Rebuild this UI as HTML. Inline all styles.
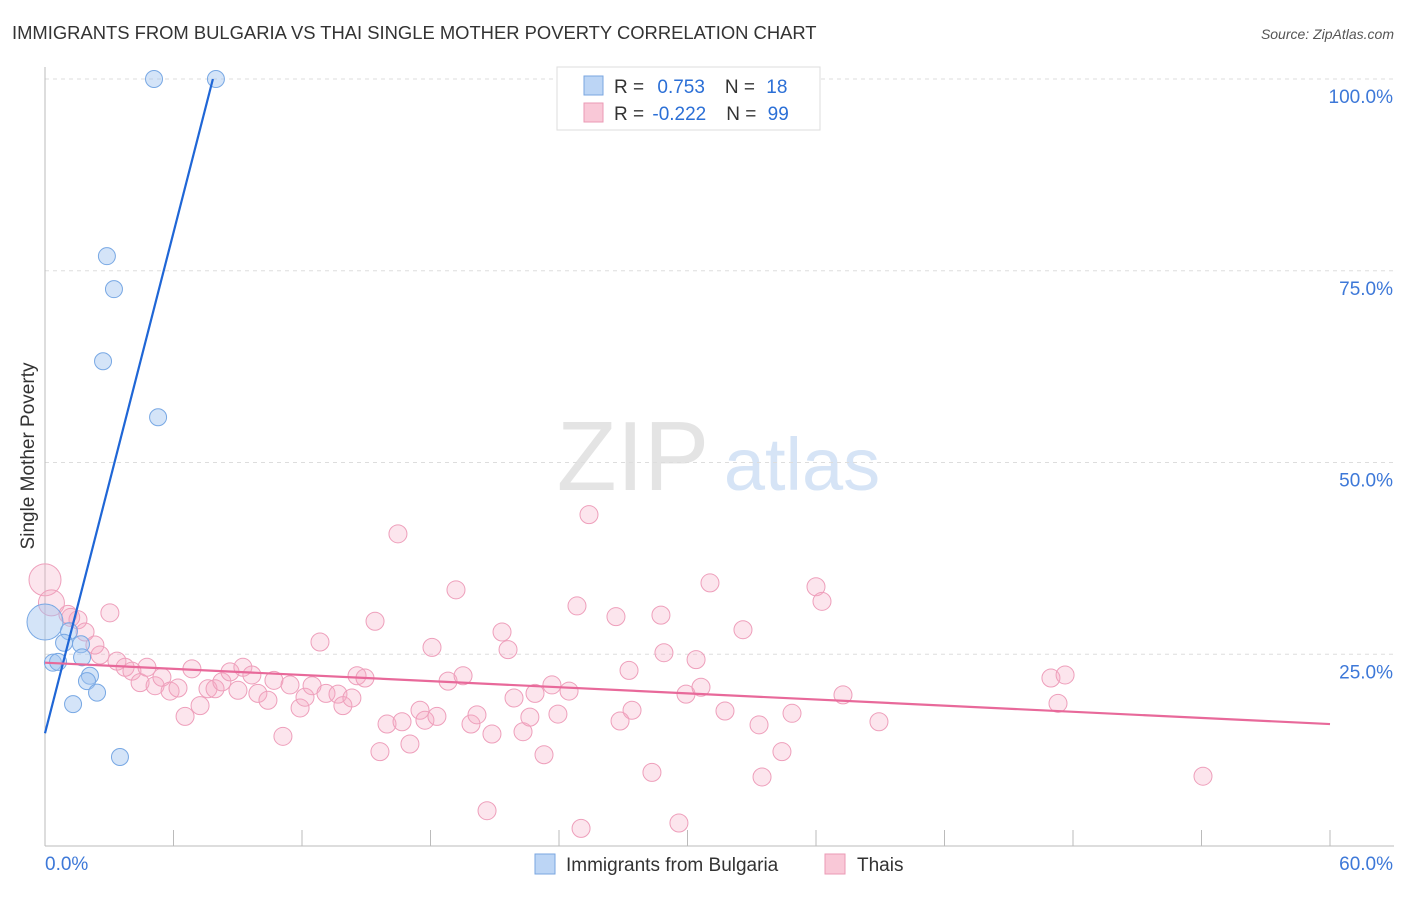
<!DOCTYPE html>
<html><head><meta charset="utf-8"><style>
body{margin:0;background:#fff;font-family:"Liberation Sans",sans-serif;}
svg text{font-family:"Liberation Sans",sans-serif;}
</style></head><body>
<svg id="c" width="1406" height="892" viewBox="0 0 1406 892">
<text x="12" y="39" font-size="18.4" fill="#333">IMMIGRANTS FROM BULGARIA VS THAI SINGLE MOTHER POVERTY CORRELATION CHART</text>
<text x="1394" y="39" font-size="14" fill="#555" text-anchor="end" font-style="italic">Source: ZipAtlas.com</text>
<text x="633" y="490" font-size="98" fill="#e4e4e4" font-family="Liberation Serif" text-anchor="middle">ZIP</text>
<text x="802" y="490" font-size="74" fill="#d6e4f6" text-anchor="middle">atlas</text>
<text transform="translate(34,456) rotate(-90)" font-size="19" fill="#333" text-anchor="middle">Single Mother Poverty</text>
<g id="grid"></g><g id="pts"></g><g id="lines"></g>
<g>
<rect x="557" y="67" width="263" height="63" fill="#fff" stroke="#ddd"/>
<rect x="584" y="76" width="19" height="19" fill="#bcd5f5" stroke="#7aa6e0"/>
<rect x="584" y="103" width="19" height="19" fill="#f9c8d7" stroke="#eb9ab4"/>
<text x="614" y="93" font-size="19" fill="#333">R = <tspan fill="#2b6fd6" dx="8">0.753</tspan><tspan dx="20" fill="#333">N = </tspan><tspan fill="#2b6fd6" dx="6">18</tspan></text>
<text x="614" y="120" font-size="19" fill="#333">R = <tspan fill="#2b6fd6" dx="3">-0.222</tspan><tspan dx="20" fill="#333">N = </tspan><tspan fill="#2b6fd6" dx="6">99</tspan></text>
</g>
<g>
<rect x="535" y="854" width="20" height="20" fill="#bcd5f5" stroke="#7aa6e0"/>
<text x="566" y="871" font-size="19" fill="#333">Immigrants from Bulgaria</text>
<rect x="825" y="854" width="20" height="20" fill="#f9c8d7" stroke="#eb9ab4"/>
<text x="857" y="871" font-size="19" fill="#333">Thais</text>
</g>
</svg>
<script>
const yTicks=[25,50,75,100];
const yTickLabels=["25.0%","50.0%","75.0%","100.0%"];
const blueX=[5.09,7.98,2.89,3.22,2.71,5.28,0,1.12,0.89,1.68,1.73,0.37,0.61,2.10,1.96,2.43,1.31,3.50];
const blueY=[100,100,76.9,72.6,63.2,55.9,29.2,28.0,26.5,26.3,24.6,23.9,24.0,22.2,21.5,20.0,18.5,11.6];
const blueR=[8.5,8.5,8.5,8.5,8.5,8.5,18,8.5,8.5,8.5,8.5,8.5,8.5,8.5,8.5,8.5,8.5,8.5];
const pinkX=[0,0.3,1.07,1.54,1.87,2.33,2.57,3.03,3.36,3.74,4.06,4.44,4.76,5.14,5.46,5.84,6.21,6.54,6.86,7.24,7.61,7.94,8.26,8.64,9.24,9.01,9.66,9.94,10.41,10.69,11.11,11.44,11.91,12.14,12.47,12.84,13.12,13.68,13.91,14.33,14.57,14.94,15.41,15.64,15.97,16.48,16.67,17.04,17.51,17.74,18.07,18.30,18.82,19.19,19.52,19.89,20.17,20.64,20.87,21.34,21.62,21.90,22.32,22.64,22.88,23.30,23.67,23.95,24.47,24.84,25.03,25.40,26.66,26.85,27.27,27.41,28.34,28.76,28.90,29.60,29.93,30.40,30.63,31.05,31.75,32.59,33.34,33.48,34.41,34.88,36.00,36.28,37.26,38.94,46.97,47.30,47.63,54.07,1.2];
const pinkY=[34.7,31.7,30.2,29.5,27.9,26.2,24.9,30.4,24.1,23.3,22.8,21.3,23.3,20.9,22.0,20.2,20.6,16.9,23.1,18.3,20.5,20.5,21.4,22.7,23.3,20.3,22.3,19.9,19.0,21.6,14.3,21.0,18.0,19.4,20.9,26.6,19.9,19.8,18.3,19.3,22.2,21.9,29.3,12.3,15.9,40.7,16.2,13.3,17.7,16.4,25.9,16.9,21.5,33.4,22.2,15.9,17.1,4.6,14.6,27.9,25.6,19.3,14.9,16.8,19.9,11.9,21.0,17.2,20.2,31.3,2.3,43.2,29.9,16.3,22.9,17.7,9.6,30.1,25.2,3.0,19.8,24.3,20.7,34.3,17.6,28.2,15.8,9.0,12.3,17.3,33.8,31.9,19.7,16.2,21.9,18.6,22.3,9.1,29.8];
const pinkR=[16,13];
const blueLine=[[0,14.7],[7.84,100]];
const pinkLine=[[0,23.9],[60,15.9]];
const X=v=>45+v/60*1285, Y=v=>846-v/100*767;
const NS="http://www.w3.org/2000/svg";
function mk(t,a,p){const e=document.createElementNS(NS,t);for(const k in a)e.setAttribute(k,a[k]);p.appendChild(e);return e;}
const grid=document.getElementById('grid');
yTicks.forEach((t,i)=>{
 const l=mk('line',{x1:45,x2:1394,y1:Y(t),y2:Y(t),stroke:'#ddd','stroke-dasharray':'4,4'},grid);
 
 
 const tx=mk('text',{x:1393,y:Y(t)+24,'font-size':19,fill:'#3d78d8','text-anchor':'end'},grid);
 tx.textContent=yTickLabels[i];
 
 
});
const ax=mk('line',{x1:45,x2:45,y1:67,y2:846,stroke:'#bbb'},grid);


const xa=mk('line',{x1:45,x2:1394,y1:846,y2:846,stroke:'#bbb'},grid);


for(let i=0;i<=10;i++){const t=mk('line',{x1:X(i*6),x2:X(i*6),y1:830,y2:846,stroke:'#bbb'},grid);
 
 }
[["0.0%",45,'start'],["60.0%",1393,'end']].forEach(d=>{const t=mk('text',{x:d[1],y:870,'font-size':19,fill:'#3d78d8','text-anchor':d[2]},grid);t.textContent=d[0];
 
 });
const pts=document.getElementById('pts');
pinkX.forEach((x,i)=>{const c=mk('circle',{cx:X(x),cy:Y(pinkY[i]),r:pinkR[i]||9,fill:'rgba(245,168,194,0.3)',stroke:'#ee9fbb','stroke-width':1},pts);
 
 });
blueX.forEach((x,i)=>{const c=mk('circle',{cx:X(x),cy:Y(blueY[i]),r:blueR[i],fill:'rgba(160,196,240,0.45)',stroke:'#78a8e4','stroke-width':1},pts);
 
 });
const lines=document.getElementById('lines');
const bl=mk('line',{x1:X(blueLine[0][0]),y1:Y(blueLine[0][1]),x2:X(blueLine[1][0]),y2:Y(blueLine[1][1]),stroke:'#1f66d6','stroke-width':2.2},lines);


const pl=mk('line',{x1:X(pinkLine[0][0]),y1:Y(pinkLine[0][1]),x2:X(pinkLine[1][0]),y2:Y(pinkLine[1][1]),stroke:'#e8699a','stroke-width':2.2},lines);


</script>
</body></html>
